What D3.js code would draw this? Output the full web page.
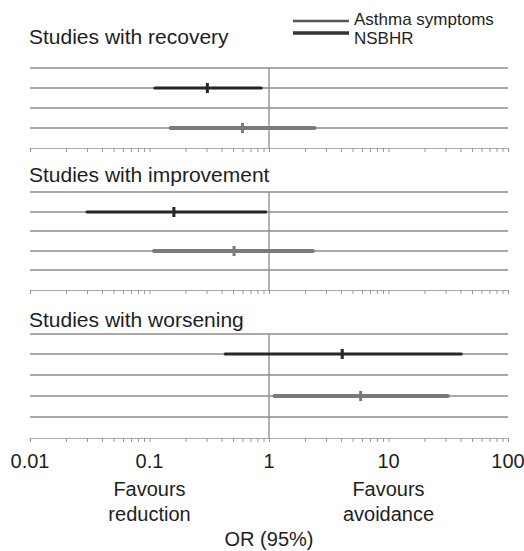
<!DOCTYPE html>
<html>
<head>
<meta charset="UTF-8">
<script src="https://cdn.jsdelivr.net/npm/d3@7"></script>
<style>
  body { margin:0; background:#fff; }
  text { font-family: "Liberation Sans", Arial, sans-serif; fill:#1e1e1e; }
</style>
</head>
<body>
<svg id="chart" width="524" height="551"></svg>
<script>
// panels (outcomes) and series
const panels = ["Studies with recovery", "Studies with improvement", "Studies with worsening"];
const series = ["Asthma symptoms", "NSBHR"];
// OR estimates and 95% CI, per panel: upper row (dark) and lower row (grey)
const orDark  = [0.305, 0.16, 4.1];
const loDark  = [0.111, 0.030, 0.43];
const hiDark  = [0.86, 0.94, 40.6];
const orGrey  = [0.60, 0.51, 5.85];
const loGrey  = [0.15, 0.109, 1.11];
const hiGrey  = [2.4, 2.33, 31.3];
const tickLabels = [0.01, 0.1, 1, 10, 100];

const svg = d3.select("#chart");
const x = d3.scaleLog().domain([0.01, 100]).range([30, 508]);

// each panel: title baseline, gridlines, bottom axis, rows of the two bars
const layout = [
  { title: 44,  rows: [68, 88, 108, 128], axis: 148, dark: 88,  grey: 128 },
  { title: 182, rows: [192, 212, 231, 251, 270], axis: 290, dark: 212, grey: 251 },
  { title: 327, rows: [334, 354, 375, 396, 417], axis: 438, dark: 354, grey: 396 }
];

panels.forEach((p, i) => {
  const L = layout[i];
  svg.append("text").attr("x", 29).attr("y", L.title)
    .attr("font-size", 21).text(p);

  L.rows.forEach(y => {
    svg.append("line").attr("x1", 30).attr("x2", 508)
      .attr("y1", y).attr("y2", y)
      .attr("stroke", "#8c8c8c").attr("stroke-width", 1.3);
  });

  // reference line at OR = 1
  svg.append("line").attr("x1", x(1)).attr("x2", x(1))
    .attr("y1", L.rows[0]).attr("y2", L.axis)
    .attr("stroke", "#8c8c8c").attr("stroke-width", 1.3);

  // axis
  const ax = d3.axisBottom(x).tickValues(
      d3.range(-2, 2).flatMap(e => d3.range(1, 10).map(m => m * Math.pow(10, e))).concat([100]))
    .tickSize(4).tickFormat("");
  const g = svg.append("g").attr("transform", `translate(0,${L.axis})`).call(ax);
  g.select(".domain").attr("stroke", "#aaa").attr("stroke-width", 1.2);
  g.selectAll(".tick line").attr("stroke", "#999");

  // CI bars
  const bars = [
    { y: L.dark, lo: loDark[i], hi: hiDark[i], or: orDark[i], c: "#262626", w: 3.2 },
    { y: L.grey, lo: loGrey[i], hi: hiGrey[i], or: orGrey[i], c: "#7a7a7a", w: 4 }
  ];
  bars.forEach(b => {
    svg.append("line").attr("x1", x(b.lo)).attr("x2", x(b.hi))
      .attr("y1", b.y).attr("y2", b.y)
      .attr("stroke", b.c).attr("stroke-width", b.w).attr("stroke-linecap", "round");
    svg.append("line").attr("x1", x(b.or)).attr("x2", x(b.or))
      .attr("y1", b.y - 5).attr("y2", b.y + 5)
      .attr("stroke", b.c).attr("stroke-width", 3);
  });
});

// tick labels
svg.selectAll(".tl").data(tickLabels).enter().append("text")
  .attr("x", d => x(d)).attr("y", 468)
  .attr("text-anchor", "middle").attr("font-size", 20)
  .text(d => d);

// direction labels
[[0.1, ["Favours", "reduction"]], [10, ["Favours", "avoidance"]]].forEach(([v, lines]) => {
  lines.forEach((t, j) => {
    svg.append("text").attr("x", x(v)).attr("y", 496 + j * 25)
      .attr("text-anchor", "middle").attr("font-size", 20).text(t);
  });
});
svg.append("text").attr("x", x(1)).attr("y", 546)
  .attr("text-anchor", "middle").attr("font-size", 20).text("OR (95%)");

// legend
const legColors = ["#555", "#333"];
const legWidths = [2.5, 3.5];
series.forEach((s, i) => {
  const y = 21 + i * 12;
  svg.append("line").attr("x1", 293).attr("x2", 349).attr("y1", y).attr("y2", y)
    .attr("stroke", legColors[i]).attr("stroke-width", legWidths[i]);
  svg.append("text").attr("x", 354).attr("y", 25 + i * 19)
    .attr("font-size", 17).text(s);
});
</script>
</body>
</html>
